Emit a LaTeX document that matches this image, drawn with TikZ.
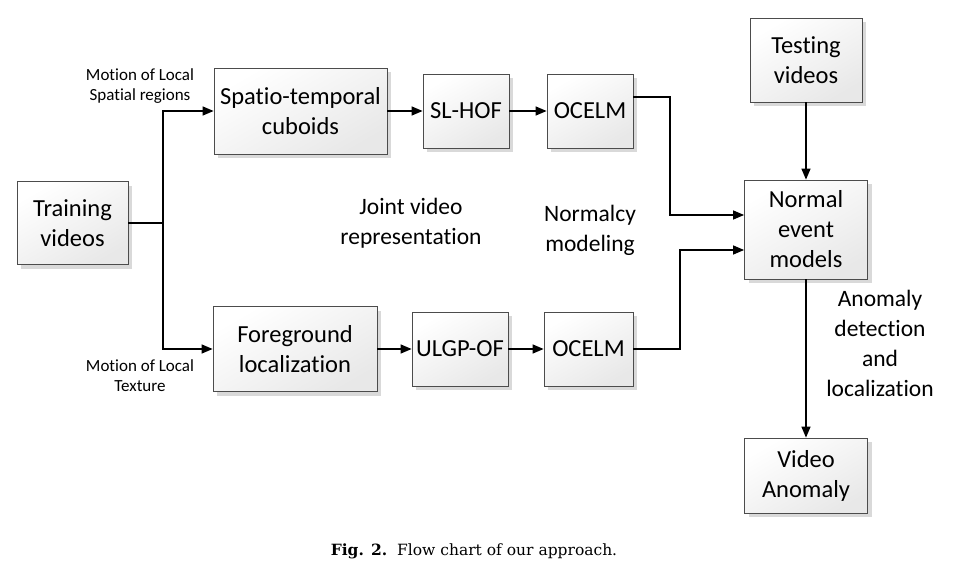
\documentclass[tikz,border=0pt]{standalone}
\usepackage{fontspec}
\setmainfont{Carlito}[Ligatures=CommonOff]
\newfontfamily\capfont{DejaVu Serif}
\usetikzlibrary{arrows.meta,shadows}
\tikzset{
  box/.style={draw=black!70, line width=0.8pt, inner sep=0pt, align=center,
    top color=white, bottom color=black!9, shading angle=30,
    font=\fontsize{24.5}{30}\selectfont,
    copy shadow={fill=black!15, draw=none, shadow xshift=4pt, shadow yshift=-4pt}},
  arr/.style={line width=1.3pt, -{Triangle[length=11pt,width=9pt]}},
  small/.style={align=center, font=\fontsize{17}{20}\selectfont},
  mid/.style={align=center, font=\fontsize{23.5}{30}\selectfont}
}
\begin{document}
\begin{tikzpicture}[x=1pt,y=-1pt]
\useasboundingbox[fill=white] (0,0) rectangle (954,568);
% boxes
\node[box, minimum width=111pt, minimum height=83pt] (train) at (72.5,223) {Training\\videos};
\node[box, minimum width=173pt, minimum height=86pt] (stc) at (300.5,111) {Spatio-temporal\\cuboids};
\node[box, minimum width=86pt, minimum height=74pt] (slhof) at (466,111) {SL-HOF};
\node[box, minimum width=86pt, minimum height=74pt] (oct) at (590,111) {OCELM};
\node[box, minimum width=164pt, minimum height=85pt] (fg) at (295,349) {Foreground\\localization};
\node[box, minimum width=96pt, minimum height=74pt] (ulgp) at (460,349) {ULGP-OF};
\node[box, minimum width=89pt, minimum height=74pt] (ocb) at (588.5,349) {OCELM};
\node[box, minimum width=112pt, minimum height=84pt] (test) at (806,60) {Testing\\videos};
\node[box, minimum width=123pt, minimum height=99pt] (nem) at (806,229.5) {Normal\\event\\models};
\node[box, minimum width=123pt, minimum height=75pt] (va) at (806,475.5) {Video\\Anomaly};
% labels
\node[small] (l1) at (140,86) {Motion of Local\\Spatial regions};
\node[small] (l2) at (140,376) {Motion of Local\\Texture};
\node[mid] (l3) at (411,223) {Joint video\\representation};
\node[mid] (l4) at (590,230) {Normalcy\\modeling};
\node[mid] (l5) at (880,343) {Anomaly\\detection\\and\\localization};
\node[font=\capfont\fontsize{15.5}{20}\selectfont] (cap) at (474,551) {\textbf{Fig. 2.}\ \ Flow chart of our approach.};
% connectors
\coordinate (j) at (163,223);
\draw[arr] (train.east) -- (j) |- (stc.west);
\draw[arr] (j) |- (fg.west);
\draw[arr] (stc) -- (slhof);
\draw[arr] (slhof) -- (oct);
\draw[arr] (fg) -- (ulgp);
\draw[arr] (ulgp) -- (ocb);
\draw[arr] ([yshift=14pt]oct.east) -- (670,97) |- ([yshift=14.5pt]nem.west);
\draw[arr] (ocb.east) -- (680,349) |- ([yshift=-20.5pt]nem.west);
\draw[arr] (test) -- (nem);
\draw[arr] (nem) -- (va);
\end{tikzpicture}
\end{document}
